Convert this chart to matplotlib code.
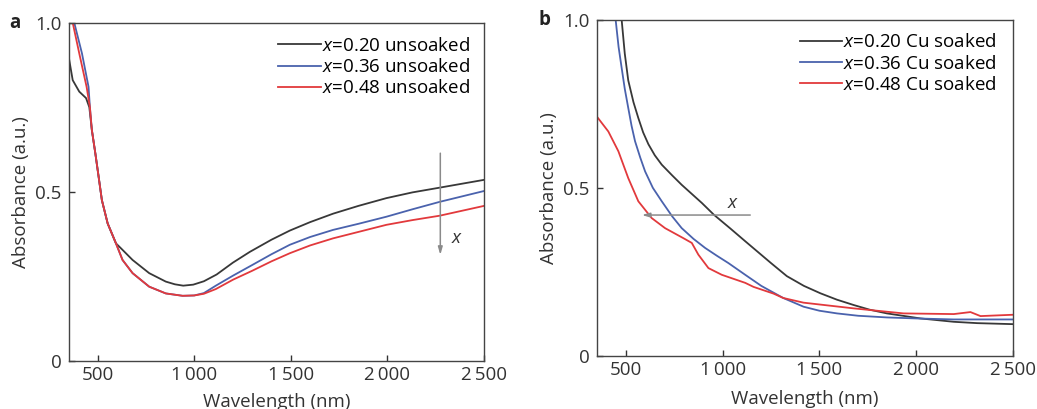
import matplotlib
matplotlib.use("Agg")
import matplotlib.pyplot as plt

plt.rcParams['font.family'] = ['Open Sans', 'DejaVu Sans']

# ---------------- data ----------------
# Panel a: unsoaked
wl_a_k = [350, 371, 405, 440, 457, 470, 488, 505, 522, 552, 595, 620, 681, 767, 853, 900, 943, 995, 1050, 1116, 1200, 1288, 1400, 1495, 1600, 1719, 1850, 1995, 2130, 2271, 2400, 2500]
ab_a_k = [0.90, 0.83, 0.796, 0.777, 0.75, 0.683, 0.614, 0.545, 0.475, 0.406, 0.347, 0.333, 0.298, 0.259, 0.234, 0.226, 0.222, 0.225, 0.235, 0.255, 0.290, 0.322, 0.358, 0.385, 0.410, 0.435, 0.458, 0.481, 0.498, 0.512, 0.525, 0.535]

wl_a_b = [350, 379, 419, 453, 460, 470, 488, 505, 522, 552, 595, 629, 681, 767, 853, 940, 1000, 1050, 1112, 1202, 1300, 1400, 1495, 1600, 1719, 1850, 1995, 2130, 2271, 2500]
ab_a_b = [1.12, 1.0, 0.909, 0.81, 0.75, 0.683, 0.614, 0.545, 0.475, 0.406, 0.347, 0.298, 0.259, 0.219, 0.199, 0.192, 0.193, 0.200, 0.222, 0.252, 0.283, 0.315, 0.343, 0.366, 0.387, 0.405, 0.426, 0.448, 0.470, 0.502]

wl_a_r = [350, 371, 405, 443, 460, 470, 488, 505, 522, 552, 595, 629, 681, 767, 853, 940, 1000, 1050, 1112, 1202, 1300, 1400, 1495, 1600, 1719, 1850, 1995, 2130, 2271, 2500]
ab_a_r = [1.08, 1.0, 0.909, 0.81, 0.75, 0.683, 0.614, 0.545, 0.475, 0.406, 0.347, 0.298, 0.259, 0.219, 0.199, 0.192, 0.193, 0.198, 0.212, 0.240, 0.266, 0.294, 0.318, 0.341, 0.362, 0.381, 0.402, 0.416, 0.429, 0.458]

# Panel b: Cu soaked
wl_b_k = [460, 479, 495, 513, 540, 565, 590, 617, 650, 686, 740, 789, 893, 955, 1040, 1117, 1160, 1250, 1332, 1420, 1505, 1590, 1677, 1760, 1849, 2022, 2194, 2315, 2500]
ab_b_k = [1.1, 1.0, 0.90, 0.82, 0.755, 0.708, 0.665, 0.630, 0.597, 0.569, 0.537, 0.509, 0.455, 0.420, 0.379, 0.341, 0.320, 0.276, 0.237, 0.208, 0.186, 0.167, 0.151, 0.137, 0.126, 0.111, 0.101, 0.097, 0.094]

wl_b_b = [420, 448, 463, 479, 495, 513, 530, 548, 575, 600, 640, 686, 740, 789, 850, 910, 970, 1030, 1117, 1200, 1313, 1418, 1500, 1591, 1700, 1849, 2000, 2194, 2500]
ab_b_b = [1.15, 1.0, 0.92, 0.857, 0.795, 0.738, 0.685, 0.639, 0.590, 0.549, 0.500, 0.460, 0.415, 0.380, 0.348, 0.321, 0.298, 0.276, 0.241, 0.208, 0.172, 0.146, 0.134, 0.126, 0.119, 0.114, 0.111, 0.108, 0.108]

wl_b_r = [350, 410, 462, 513, 565, 634, 703, 798, 841, 875, 927, 996, 1117, 1160, 1263, 1313, 1418, 1677, 1935, 2194, 2280, 2332, 2500]
ab_b_r = [0.713, 0.668, 0.609, 0.529, 0.460, 0.410, 0.380, 0.350, 0.336, 0.301, 0.261, 0.241, 0.217, 0.205, 0.185, 0.172, 0.158, 0.141, 0.126, 0.124, 0.130, 0.118, 0.122]

labels_a = ['$x$=0.20 unsoaked', '$x$=0.36 unsoaked', '$x$=0.48 unsoaked']
labels_b = ['$x$=0.20 Cu soaked', '$x$=0.36 Cu soaked', '$x$=0.48 Cu soaked']

xticks = [500, 1000, 1500, 2000, 2500]
xticklabels = ['500', '1\u2009000', '1\u2009500', '2\u2009000', '2\u2009500']
yticks = [0, 0.5, 1.0]
yticklabels = ['0', '0.5', '1.0']

C_K = '#383838'
C_B = '#4a62ad'
C_R = '#e2393c'

plt.rcParams['mathtext.fontset'] = 'custom'
plt.rcParams['mathtext.it'] = 'Open Sans:italic'
plt.rcParams['mathtext.rm'] = 'Open Sans'

fig = plt.figure(figsize=(10.37, 4.09), dpi=100)
ax_a = fig.add_axes([0.0662, 0.1181, 0.4005, 0.8264])
ax_b = fig.add_axes([0.5754, 0.1303, 0.4015, 0.8208])

FS = 13.5

def style(ax, xlabelpad):
    ax.set_xlim(350, 2500)
    ax.set_ylim(0, 1.0)
    ax.set_xticks(xticks)
    ax.set_xticklabels(xticklabels)
    ax.set_yticks(yticks)
    ax.set_yticklabels(yticklabels)
    ax.tick_params(direction='in', length=4, width=1, labelsize=FS, color='#333333', labelcolor='#333333')
    ax.tick_params(axis='x', pad=4)
    ax.tick_params(axis='y', pad=5)
    for s in ax.spines.values():
        s.set_color('#444444')
        s.set_linewidth(1.0)
    ax.set_xlabel('Wavelength (nm)', fontsize=FS, color='#333333', labelpad=xlabelpad)
    ax.set_ylabel('Absorbance (a.u.)', fontsize=FS, color='#333333', labelpad=4)

lw = 1.3
for ax, data, labels, lp in [
    (ax_a, [(wl_a_k, ab_a_k, C_K), (wl_a_b, ab_a_b, C_B), (wl_a_r, ab_a_r, C_R)], labels_a, 6.0),
    (ax_b, [(wl_b_k, ab_b_k, C_K), (wl_b_b, ab_b_b, C_B), (wl_b_r, ab_b_r, C_R)], labels_b, 8.0),
]:
    for (wl, ab, c), lab in zip(data, labels):
        ax.plot(wl, ab, color=c, lw=lw, label=lab)
    style(ax, lp)

ax_a.legend(loc='upper left', bbox_to_anchor=(0.505, 0.958), frameon=False, fontsize=FS,
            handlelength=2.25, handletextpad=0.05, labelspacing=0.17, borderpad=0, borderaxespad=0)
ax_b.legend(loc='upper left', bbox_to_anchor=(0.488, 0.96), frameon=False, fontsize=FS,
            handlelength=2.25, handletextpad=0.05, labelspacing=0.17, borderpad=0, borderaxespad=0)

# arrows
ax_a.annotate('', xy=(2274, 0.313), xytext=(2274, 0.614),
              arrowprops=dict(arrowstyle='-|>,head_length=0.45,head_width=0.13', color='#8a8a8a', lw=1.1,
                              shrinkA=0, shrinkB=0))
ax_a.text(2357, 0.363, 'x', style='italic', fontsize=FS, color='#333333', ha='center', va='center')

ax_b.annotate('', xy=(583, 0.419), xytext=(1143, 0.419),
              arrowprops=dict(arrowstyle='-|>,head_length=0.45,head_width=0.13', color='#8a8a8a', lw=1.1,
                              shrinkA=0, shrinkB=0))
ax_b.text(1048, 0.454, 'x', style='italic', fontsize=FS, color='#333333', ha='center', va='center')

fig.text(15 / 1037, 1 - 23 / 409, 'a', fontsize=FS, fontweight='bold', ha='center', va='center', color='#222222')
fig.text(545 / 1037, 1 - 20 / 409, 'b', fontsize=FS, fontweight='bold', ha='center', va='center', color='#222222')

fig.savefig('out.png', dpi=100)
